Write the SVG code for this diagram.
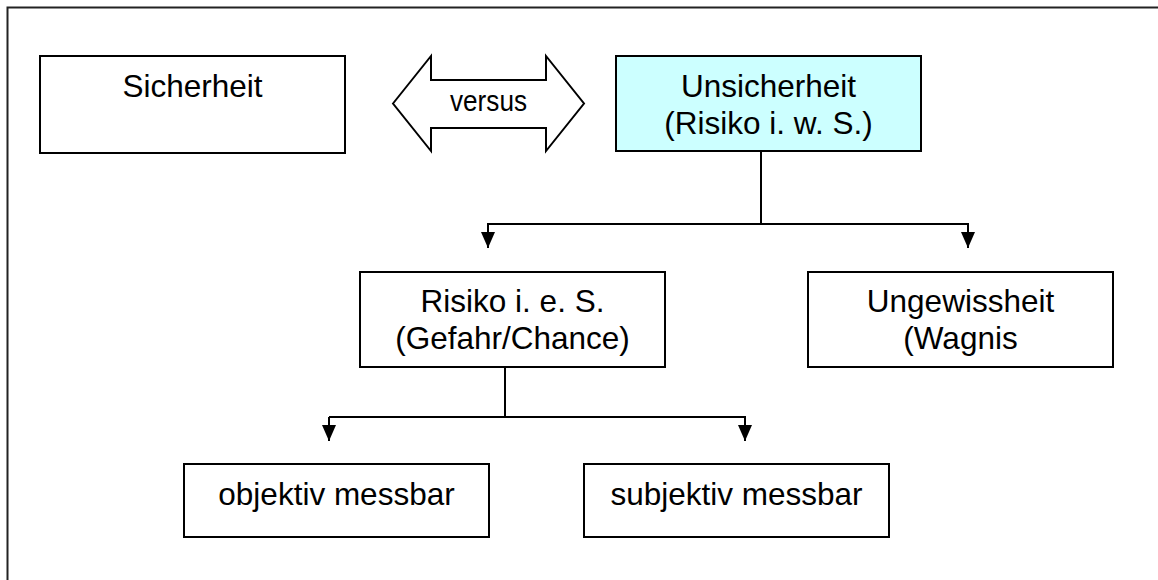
<svg xmlns="http://www.w3.org/2000/svg" width="1158" height="580" viewBox="0 0 1158 580">
  <style>
    .box { fill: #ffffff; stroke: #000000; stroke-width: 2; }
    .hl { fill: #ccffff; }
    .t { font-family: "Liberation Sans", Arial, sans-serif; font-size: 31.5px; fill: #000000; text-anchor: middle; }
    .conn { fill: none; stroke: #000000; stroke-width: 2; }
  </style>
  <defs>
    <marker id="ah" viewBox="0 0 16 14" refX="16" refY="7" markerWidth="16" markerHeight="14" markerUnits="userSpaceOnUse" orient="auto">
      <path d="M0,0 L16,7 L0,14 Z" fill="#000000"/>
    </marker>
  </defs>
  <rect width="1158" height="580" fill="#ffffff"/>
  <path d="M7.5,580 V7.5 H1158" fill="none" stroke="#222222" stroke-width="2"/>

  <g id="connectors">
    <path class="conn" d="M761,151 V224"/>
    <path class="conn" d="M488,248 V224 H968 V248" marker-end="url(#ah)"/>
    <path class="conn" d="M488,224 V248" marker-end="url(#ah)"/>
    <path class="conn" d="M505,367 V417"/>
    <path class="conn" d="M329,417 H745 V441" marker-end="url(#ah)"/>
    <path class="conn" d="M329,417 V441" marker-end="url(#ah)"/>
  </g>

  <g id="sicherheit">
    <rect class="box" x="40" y="56" width="305" height="97"/>
    <text class="t" x="192.5" y="97">Sicherheit</text>
  </g>

  <g id="versus">
    <polygon class="box" points="393,103.5 431,56 431,80 546,80 546,56 584,103.5 546,151 546,128 431,128 431,151"/>
    <text class="t" x="488.5" y="111" style="font-size:30px" textLength="77" lengthAdjust="spacingAndGlyphs">versus</text>
  </g>

  <g id="unsicherheit">
    <rect class="box hl" x="616" y="56" width="305" height="95"/>
    <text class="t" x="768.5" y="97">Unsicherheit</text>
    <text class="t" x="768.5" y="133.5">(Risiko i. w. S.)</text>
  </g>

  <g id="risiko">
    <rect class="box" x="360" y="272" width="305" height="95"/>
    <text class="t" x="512.5" y="312">Risiko i. e. S.</text>
    <text class="t" x="512.5" y="348.5">(Gefahr/Chance)</text>
  </g>

  <g id="ungewissheit">
    <rect class="box" x="808" y="272" width="305" height="95"/>
    <text class="t" x="960.5" y="312">Ungewissheit</text>
    <text class="t" x="960.5" y="348.5">(Wagnis</text>
  </g>

  <g id="objektiv">
    <rect class="box" x="184" y="464" width="305" height="73"/>
    <text class="t" x="336.5" y="505">objektiv messbar</text>
  </g>

  <g id="subjektiv">
    <rect class="box" x="584" y="464" width="305" height="73"/>
    <text class="t" x="736.5" y="505">subjektiv messbar</text>
  </g>
</svg>
